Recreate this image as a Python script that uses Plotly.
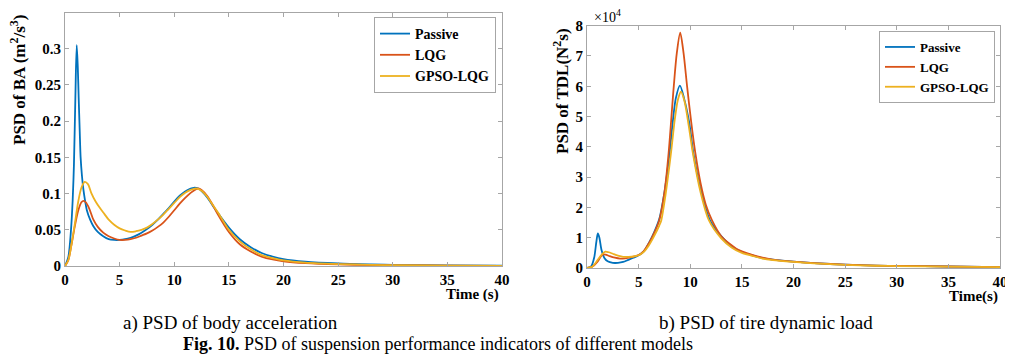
import plotly.graph_objects as go

# ---------------- data: a) PSD of body acceleration ----------------
ba_passive_t = [0, 0.3, 0.55, 0.7, 0.82, 0.95, 1.07, 1.17, 1.25, 1.35, 1.43, 1.55, 1.68, 1.85, 2.0, 2.3, 2.6,
                3.0, 3.5, 4.0, 4.5, 5.0, 5.5, 6.0, 6.5, 7.0, 7.5, 8.0, 8.5, 9.0, 9.5, 10.0, 10.5, 11.0, 11.5,
                11.8, 12.2, 12.6, 13.0, 13.5, 14.0, 15.0, 16.0, 17.0, 18.0, 19.0, 20.0, 22.0, 25.0, 28.0, 30.0,
                35.0, 40.0]
ba_passive = [0, 0.012, 0.05, 0.09, 0.141, 0.233, 0.305, 0.275, 0.233, 0.185, 0.15, 0.125, 0.106, 0.089, 0.077,
              0.064, 0.055, 0.047, 0.041, 0.037, 0.036, 0.036, 0.037, 0.039, 0.042, 0.046, 0.051, 0.057, 0.064,
              0.072, 0.080, 0.089, 0.097, 0.103, 0.107, 0.108, 0.107, 0.102, 0.095, 0.084, 0.073, 0.053, 0.037,
              0.026, 0.018, 0.013, 0.0095, 0.006, 0.0035, 0.0022, 0.0016, 0.0008, 0.0004]

ba_lqg_t = [0, 0.3, 0.6, 0.9, 1.2, 1.5, 1.7, 1.9, 2.2, 2.6, 3.0, 3.5, 4.0, 4.5, 5.0, 5.5, 6.0, 6.5, 7.0, 7.5,
            8.0, 8.5, 9.0, 9.5, 10.0, 10.5, 11.0, 11.5, 12.0, 12.2, 12.5, 13.0, 13.5, 14.0, 15.0, 16.0, 17.0,
            18.0, 19.0, 20.0, 22.0, 25.0, 28.0, 30.0, 35.0, 40.0]
ba_lqg = [0, 0.008, 0.03, 0.055, 0.076, 0.088, 0.090, 0.088, 0.080, 0.064, 0.054, 0.046, 0.041, 0.038, 0.036,
          0.036, 0.037, 0.039, 0.042, 0.045, 0.049, 0.054, 0.060, 0.068, 0.077, 0.086, 0.094, 0.101, 0.106,
          0.107, 0.105, 0.097, 0.085, 0.071, 0.047, 0.030, 0.020, 0.013, 0.009, 0.0065, 0.004, 0.0022, 0.0013,
          0.001, 0.0005, 0.0003]

ba_gpso_t = [0, 0.3, 0.6, 0.9, 1.2, 1.5, 1.8, 2.1, 2.4, 2.8, 3.2, 3.6, 4.0, 4.5, 5.0, 5.5, 6.0, 6.5, 7.0, 7.5,
             8.0, 8.5, 9.0, 9.5, 10.0, 10.5, 11.0, 11.5, 12.0, 12.5, 13.0, 13.5, 14.0, 15.0, 16.0, 17.0, 18.0,
             19.0, 20.0, 22.0, 25.0, 28.0, 30.0, 35.0, 40.0]
ba_gpso = [0, 0.008, 0.03, 0.058, 0.088, 0.108, 0.116, 0.113, 0.101, 0.089, 0.080, 0.072, 0.064, 0.057, 0.052,
           0.049, 0.047, 0.048, 0.050, 0.053, 0.058, 0.064, 0.071, 0.079, 0.087, 0.095, 0.101, 0.105, 0.107,
           0.104, 0.096, 0.085, 0.074, 0.050, 0.034, 0.023, 0.015, 0.011, 0.0078, 0.0047, 0.0027, 0.0016,
           0.0012, 0.0006, 0.0003]

# ---------------- data: b) PSD of tire dynamic load (N^2 s) ----------------
tdl_passive_t = [0, 0.4, 0.7, 0.9, 1.05, 1.2, 1.4, 1.7, 2.0, 2.5, 3.0, 3.5, 4.0, 4.5, 5.0, 5.5, 6.0, 6.5, 7.0,
                 7.5, 8.0, 8.3, 8.6, 9.0, 9.4, 9.9, 10.3, 11.0, 11.9, 13.0, 14.0, 15.0, 16.0, 17.0, 18.0, 20.0,
                 22.0, 25.0, 28.0, 30.0, 35.0, 40.0]
tdl_passive = [0, 500, 3500, 8500, 11400, 10000, 6000, 3200, 2200, 1700, 1700, 2000, 2700, 3400, 4200, 5500,
               8300, 11800, 16200, 25000, 38000, 48000, 56000, 60200, 56000, 48000, 38000, 26000, 15800, 10500,
               7200, 5300, 4200, 3300, 2800, 2100, 1600, 1100, 800, 700, 500, 300]

tdl_lqg_t = [0, 0.5, 1.0, 1.3, 1.55, 1.8, 2.2, 2.7, 3.2, 3.7, 4.2, 5.0, 5.5, 6.0, 6.5, 7.0, 7.5, 7.9, 8.4, 8.7,
             9.03, 9.35, 9.7, 10.1, 10.5, 11.0, 11.5, 12.1, 13.0, 14.0, 14.5, 15.0, 16.0, 17.0, 18.0, 20.0, 22.0,
             25.0, 28.0, 30.0, 35.0, 40.0]
tdl_lqg = [0, 400, 2000, 3600, 4500, 4400, 3900, 3400, 3100, 3200, 3500, 4300, 5600, 8200, 11500, 15800, 25000,
           37800, 59800, 71000, 77700, 71000, 59800, 48000, 37800, 28000, 21000, 15800, 10500, 7500, 6300, 5500,
           4300, 3400, 2800, 2100, 1600, 1100, 800, 700, 500, 300]

tdl_gpso_t = [0, 0.5, 1.0, 1.4, 1.77, 2.1, 2.5, 3.0, 3.5, 4.0, 4.5, 5.0, 5.5, 6.0, 6.5, 7.0, 7.2, 7.6, 8.13, 8.5,
              8.8, 9.1, 9.45, 9.85, 10.26, 11.0, 11.8, 13.0, 14.0, 15.0, 16.0, 17.0, 18.0, 20.0, 22.0, 25.0, 28.0,
              30.0, 35.0, 40.0]
tdl_gpso = [0, 400, 2500, 4300, 5400, 5200, 4700, 4100, 3700, 3700, 3800, 4200, 5300, 7500, 10500, 14000, 15800,
            24000, 37800, 49000, 55500, 58200, 55000, 47000, 37800, 25000, 15800, 9800, 6800, 5000, 4000, 3100,
            2600, 2000, 1500, 1000, 750, 650, 450, 300]

series_names = ["Passive", "LQG", "GPSO-LQG"]
colors = ["#0072BD", "#D95319", "#EDB120"]

x_ticks = [0, 5, 10, 15, 20, 25, 30, 35, 40]
ba_ticks = [0, 0.05, 0.1, 0.15, 0.2, 0.25, 0.3, 0.35]
ba_tick_text = ["0", "0.05", "0.1", "0.15", "0.2", "0.25", "0.3", "0.35"]
tdl_ticks = [0, 10000, 20000, 30000, 40000, 50000, 60000, 70000, 80000]
tdl_tick_text = ["0", "1", "2", "3", "4", "5", "6", "7", "8"]

W, H = 1013, 364
OFF = 8  # page body margin that shifts the figure on screen
SERIF = "Liberation Serif, Times New Roman, serif"
AX = "#a6a6a6"

fig = go.Figure()
ba_sets = [(ba_passive_t, ba_passive), (ba_lqg_t, ba_lqg), (ba_gpso_t, ba_gpso)]
tdl_sets = [(tdl_passive_t, tdl_passive), (tdl_lqg_t, tdl_lqg), (tdl_gpso_t, tdl_gpso)]
for i, (tx, vy) in enumerate(ba_sets):
    fig.add_trace(go.Scatter(x=tx, y=vy, mode="lines", name=series_names[i],
                             line=dict(color=colors[i], width=1.8, shape="spline", smoothing=0.8),
                             xaxis="x", yaxis="y", legend="legend"))
for i, (tx, vy) in enumerate(tdl_sets):
    fig.add_trace(go.Scatter(x=tx, y=vy, mode="lines", name=series_names[i],
                             line=dict(color=colors[i], width=1.8, shape="spline", smoothing=0.8),
                             xaxis="x2", yaxis="y2", legend="legend2"))


def px_x(p):
    return (p - OFF) / W


def px_y(p):
    return 1 - (p - OFF) / H


axis_common = dict(showgrid=False, zeroline=False, showline=True, linecolor=AX, linewidth=1,
                   mirror="allticks", ticks="inside", ticklen=4, tickcolor=AX, automargin=False,
                   tickfont=dict(family=SERIF, size=15, color="black", weight="bold"))

fig.update_layout(
    width=W, height=H, margin=dict(l=0, r=0, t=0, b=0, autoexpand=False),
    paper_bgcolor="white", plot_bgcolor="white",
    xaxis=dict(domain=[px_x(65), px_x(502)], range=[0, 40], tickvals=x_ticks, anchor="y", **axis_common),
    yaxis=dict(domain=[px_y(266), px_y(12.5)], range=[0, 0.35], tickvals=ba_ticks, ticktext=ba_tick_text,
               anchor="x", **axis_common),
    xaxis2=dict(domain=[px_x(587), px_x(1000)], range=[0, 40], tickvals=x_ticks, anchor="y2", **axis_common),
    yaxis2=dict(domain=[px_y(268), px_y(25.7)], range=[0, 80000], tickvals=tdl_ticks, ticktext=tdl_tick_text,
                anchor="x2", **axis_common),
    legend=dict(x=px_x(496), y=px_y(17), xanchor="right", yanchor="top", bgcolor="white",
                bordercolor=AX, borderwidth=1, itemwidth=30, tracegroupgap=0,
                font=dict(family=SERIF, size=14, color="black", weight="bold")),
    legend2=dict(x=px_x(995), y=px_y(31), xanchor="right", yanchor="top", bgcolor="white",
                 bordercolor=AX, borderwidth=1, itemwidth=30, tracegroupgap=0,
                 font=dict(family=SERIF, size=13, color="black", weight="bold")),
    showlegend=True,
)

annots = [
    dict(text="<b>PSD of BA (m<sup>2</sup>/s<sup>3</sup>)</b>", x=px_x(18), y=px_y(80), size=17, angle=-90),
    dict(text="<b>PSD of TDL(N<sup>2</sup>s)</b>", x=px_x(561), y=px_y(91), size=17, angle=-90),
    dict(text="<b>Time (s)</b>", x=px_x(472), y=px_y(294), size=15, angle=0),
    dict(text="<b>Time(s)</b>", x=px_x(973), y=px_y(296), size=15, angle=0),
    dict(text="×10<sup>4</sup>", x=px_x(607), y=px_y(16), size=14, angle=0),
    dict(text="a) PSD of body acceleration", x=px_x(230), y=px_y(323), size=19, angle=0),
    dict(text="b) PSD of tire dynamic load", x=px_x(766), y=px_y(323), size=19, angle=0),
    dict(text="<b>Fig. 10.</b> PSD of suspension performance indicators of different models",
         x=px_x(438), y=px_y(344), size=18, angle=0),
]
for a in annots:
    fig.add_annotation(text=a["text"], x=a["x"], y=a["y"], xref="paper", yref="paper",
                       xanchor="center", yanchor="middle", showarrow=False, textangle=a["angle"],
                       font=dict(family=SERIF, size=a["size"], color="black"))

fig.write_html("out.html")
